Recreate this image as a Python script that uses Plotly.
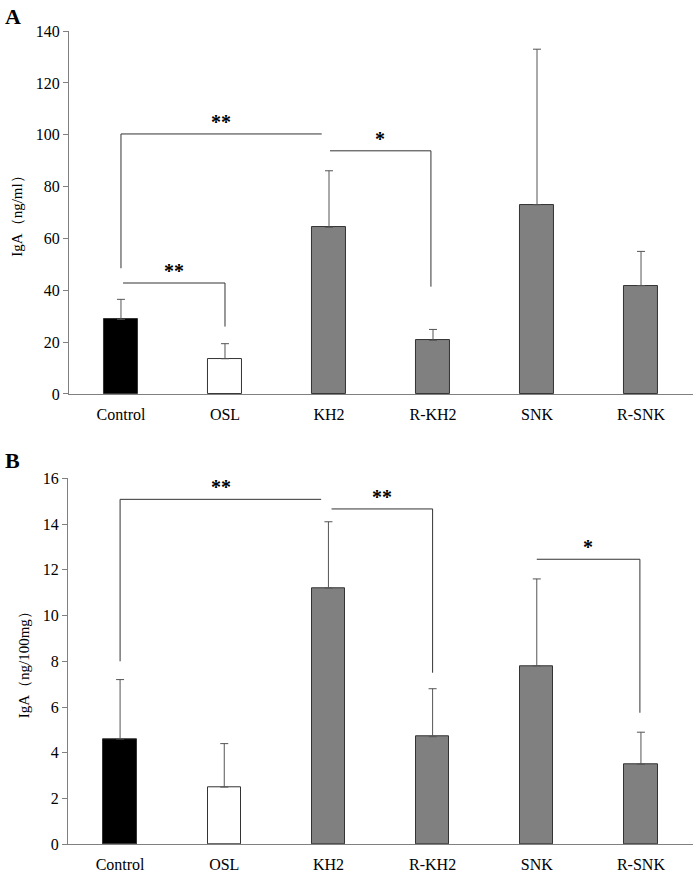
import plotly.graph_objects as go

groups = ['Control', 'OSL', 'KH2', 'R-KH2', 'SNK', 'R-SNK']
bar_colors = ['#000000', '#ffffff', '#808080', '#808080', '#808080', '#808080']

# panel A: IgA (ng/ml)
iga_ml_mean = [28.8, 13.6, 64.3, 20.7, 73.0, 41.8]
iga_ml_sd = [7.7, 5.8, 21.8, 4.2, 60.0, 13.2]

# panel B: IgA (ng/100mg)
iga_mg_mean = [4.6, 2.5, 11.2, 4.7, 7.8, 3.5]
iga_mg_sd = [2.6, 1.9, 2.9, 2.1, 3.8, 1.4]

# brackets: (x start, x end, level, left drop to, right drop to, stars)
brackets_a = [(0.0, 1.93, 100.3, 48.5, None, '**'),
              (2.01, 2.98, 93.8, None, 41.4, '*'),
              (0.02, 1.0, 42.8, None, 26.0, '**')]
brackets_b = [(0.0, 1.93, 15.08, 8.0, None, '**'),
              (2.03, 3.0, 14.66, None, 7.5, '**'),
              (4.0, 4.99, 12.46, None, 5.75, '*')]

FONT = 'Liberation Serif'
xpos = list(range(len(groups)))

fig = go.Figure()

def add_panel(mean, sd, brackets, xa, ya):
    fig.add_trace(go.Bar(x=xpos, y=mean, width=0.32, xaxis=xa, yaxis=ya,
                         marker=dict(color=bar_colors, line=dict(color='#333333', width=1)),
                         error_y=dict(type='data', array=sd, arrayminus=[0]*len(sd),
                                      symmetric=False, color='#555555', thickness=1, width=4),
                         showlegend=False))
    for x0, x1, lev, ld, rd, stars in brackets:
        xs, ys = [], []
        if ld is not None:
            xs += [x0]; ys += [ld]
        xs += [x0, x1]; ys += [lev, lev]
        if rd is not None:
            xs += [x1]; ys += [rd]
        fig.add_trace(go.Scatter(x=xs, y=ys, mode='lines', xaxis=xa, yaxis=ya,
                                 line=dict(color='#333333', width=1), showlegend=False,
                                 hoverinfo='skip'))
        fig.add_annotation(x=(x0 + x1) / 2, y=lev, xref=xa, yref=ya, text='<b>' + stars + '</b>',
                           showarrow=False, yanchor='bottom', yshift=-1,
                           font=dict(family=FONT, size=20, color='#000'))

add_panel(iga_ml_mean, iga_ml_sd, brackets_a, 'x', 'y')
add_panel(iga_mg_mean, iga_mg_sd, brackets_b, 'x2', 'y2')

xax = dict(range=[-0.5, 5.5], tickvals=xpos, ticktext=groups, showgrid=False, zeroline=False,
           showline=True, linecolor='#808080', linewidth=1, ticks='outside', ticklen=6,
           tickcolor='rgba(0,0,0,0)', automargin=False,
           tickfont=dict(family=FONT, size=16, color='#000'))
yax = dict(showgrid=False, zeroline=False, showline=True, linecolor='#808080', linewidth=1,
           ticks='outside', ticklen=5, tickcolor='#808080', automargin=False,
           tickfont=dict(family=FONT, size=16, color='#000'))

fig.update_layout(
    width=694, height=872, margin=dict(l=0, r=0, t=0, b=0),
    paper_bgcolor='white', plot_bgcolor='white', bargap=0,
    xaxis=dict(xax, domain=[0.0994, 0.9986], anchor='y'),
    yaxis=dict(yax, domain=[0.5482, 0.9644], range=[0, 140], dtick=20, anchor='x',
               title=dict(text='IgA（ng/ml）', standoff=9,
                          font=dict(family=FONT, size=15, color='#000'))),
    xaxis2=dict(xax, domain=[0.098, 0.9986], anchor='y2'),
    yaxis2=dict(yax, domain=[0.0318, 0.4515], range=[0, 16], dtick=2, anchor='x2',
                title=dict(text='IgA（ng/100mg）', standoff=9,
                           font=dict(family=FONT, size=15, color='#000'))),
)

# panel letters
fig.add_annotation(x=3/694, y=1 - 2/872, xref='paper', yref='paper', text='<b>A</b>',
                   showarrow=False, xanchor='left', yanchor='top',
                   font=dict(family=FONT, size=22, color='#000'))
fig.add_annotation(x=3/694, y=1 - 446/872, xref='paper', yref='paper', text='<b>B</b>',
                   showarrow=False, xanchor='left', yanchor='top',
                   font=dict(family=FONT, size=22, color='#000'))

# drop the default page margin so the figure sits at the window corner
fig.write_html("out.html", config={'displayModeBar': False},
               post_script="document.body.style.margin='0px';")
